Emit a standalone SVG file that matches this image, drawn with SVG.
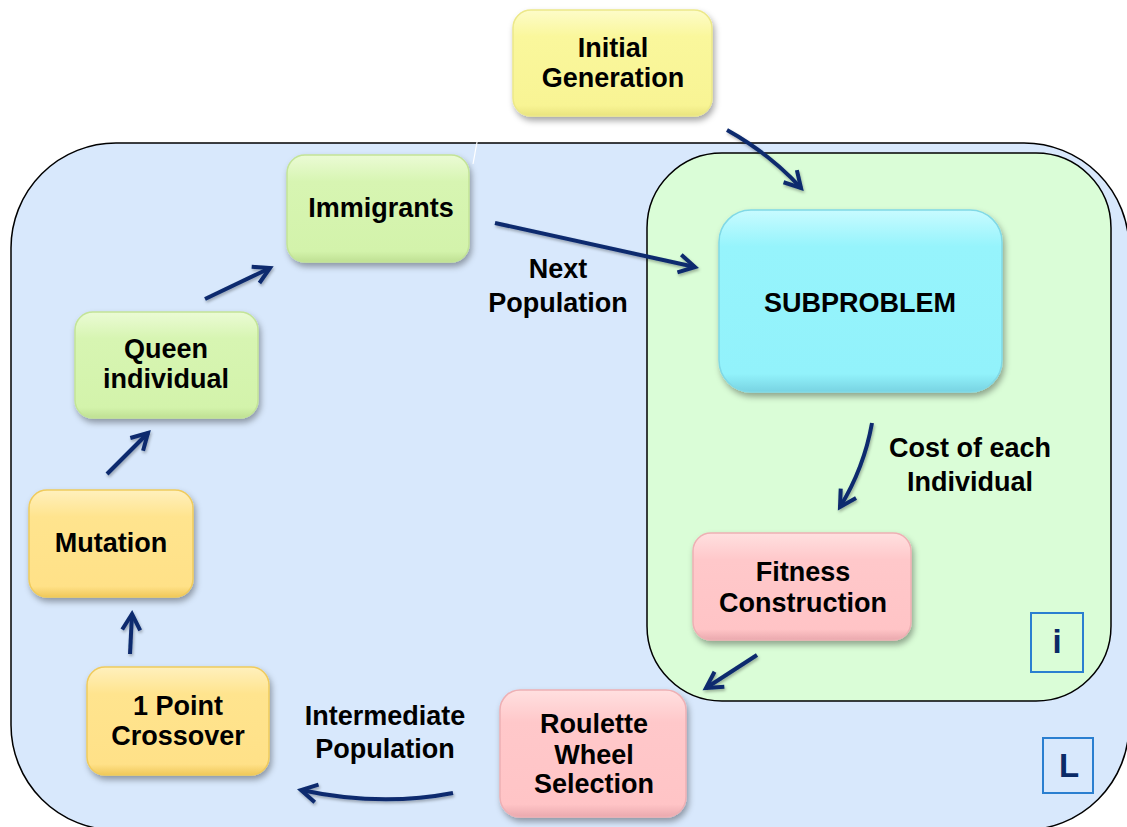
<svg xmlns="http://www.w3.org/2000/svg" width="1127" height="827" viewBox="0 0 1127 827">
  <defs>
    <style>
      .lbl { font-family: "Liberation Sans", Arial, sans-serif; font-weight: bold; font-size: 27px; fill: #000; text-anchor: middle; }
      .tag { font-family: "Liberation Sans", Arial, sans-serif; font-weight: bold; font-size: 33px; fill: #0a2a66; text-anchor: middle; }
      .tagbox { fill: none; stroke: #2a7fd0; stroke-width: 2; }
      .conn { fill: none; stroke: #0b2a6e; stroke-width: 4; stroke-linecap: butt; marker-end: url(#head); }
      .box { filter: url(#shadow); stroke-width: 1.5; }
    </style>
    <filter id="shadow" x="-20%" y="-20%" width="140%" height="150%">
      <feDropShadow dx="2" dy="4" stdDeviation="3" flood-color="#000" flood-opacity="0.35"/>
    </filter>
    <filter id="lineShadow" x="-20%" y="-20%" width="140%" height="140%">
      <feDropShadow dx="1" dy="2" stdDeviation="1.5" flood-color="#000" flood-opacity="0.3"/>
    </filter>
    <marker id="head" viewBox="0 0 24 24" markerUnits="userSpaceOnUse" markerWidth="24" markerHeight="24" refX="19" refY="12" orient="auto">
      <path d="M3,3 L19,12 L3,21" fill="none" stroke="#0b2a6e" stroke-width="4" stroke-linejoin="miter"/>
    </marker>
    <linearGradient id="gYellow" x1="0" y1="0" x2="0" y2="1">
      <stop offset="0" stop-color="#fdfcc9"/>
      <stop offset="0.25" stop-color="#faf79c"/>
      <stop offset="0.9" stop-color="#f8f494"/>
      <stop offset="1" stop-color="#e9e47e"/>
    </linearGradient>
    <linearGradient id="gGreen" x1="0" y1="0" x2="0" y2="1">
      <stop offset="0" stop-color="#ebfbd5"/>
      <stop offset="0.25" stop-color="#d7f5b2"/>
      <stop offset="0.9" stop-color="#d3f3ab"/>
      <stop offset="1" stop-color="#bfe093"/>
    </linearGradient>
    <linearGradient id="gGold" x1="0" y1="0" x2="0" y2="1">
      <stop offset="0" stop-color="#fff0bd"/>
      <stop offset="0.25" stop-color="#ffe48e"/>
      <stop offset="0.9" stop-color="#ffe188"/>
      <stop offset="1" stop-color="#f0c85a"/>
    </linearGradient>
    <linearGradient id="gCyan" x1="0" y1="0" x2="0" y2="1">
      <stop offset="0" stop-color="#c8fbff"/>
      <stop offset="0.2" stop-color="#96f4fc"/>
      <stop offset="0.9" stop-color="#92f2fb"/>
      <stop offset="1" stop-color="#78d3e2"/>
    </linearGradient>
    <linearGradient id="gPink" x1="0" y1="0" x2="0" y2="1">
      <stop offset="0" stop-color="#ffe0e0"/>
      <stop offset="0.25" stop-color="#ffc8ca"/>
      <stop offset="0.9" stop-color="#ffc4c6"/>
      <stop offset="1" stop-color="#eaa9ae"/>
    </linearGradient>
  </defs>

  <rect width="1127" height="827" fill="#ffffff"/>

  <!-- outer loop region (L) -->
  <g id="region-L">
    <rect x="11" y="143" width="1118" height="687" rx="105" ry="105" fill="#d8e8fc" stroke="#000" stroke-width="1.5"/>
    <rect class="tagbox" x="1043" y="738" width="50" height="55"/>
    <text class="tag" x="1069" y="777">L</text>
  </g>

  <!-- inner subproblem region (i) -->
  <g id="region-i">
    <rect x="647" y="153" width="464" height="548" rx="75" ry="75" fill="#dafdd7" stroke="#000" stroke-width="1.5"/>
    <rect class="tagbox" x="1031" y="613" width="52" height="59"/>
    <text class="tag" x="1057" y="653">i</text>
  </g>

  <!-- thin light stroke above the Immigrants box -->
  <line x1="477" y1="142" x2="473" y2="164" stroke="#ffffff" stroke-width="1.2"/>

  <g id="node-initial">
    <rect class="box" x="513" y="10" width="199" height="106" rx="18" fill="url(#gYellow)" stroke="#ece889"/>
    <text class="lbl" x="613" y="57">Initial</text>
    <text class="lbl" x="613" y="87">Generation</text>
  </g>

  <g id="node-immigrants">
    <rect class="box" x="287" y="155" width="182" height="107" rx="18" fill="url(#gGreen)" stroke="#c3e497"/>
    <text class="lbl" x="381" y="217">Immigrants</text>
  </g>

  <g id="node-queen">
    <rect class="box" x="75" y="312" width="183" height="106" rx="18" fill="url(#gGreen)" stroke="#c3e497"/>
    <text class="lbl" x="166" y="358">Queen</text>
    <text class="lbl" x="166" y="388">individual</text>
  </g>

  <g id="node-mutation">
    <rect class="box" x="29" y="490" width="164" height="107" rx="18" fill="url(#gGold)" stroke="#f0cb5c"/>
    <text class="lbl" x="111" y="552">Mutation</text>
  </g>

  <g id="node-crossover">
    <rect class="box" x="87" y="667" width="182" height="108" rx="18" fill="url(#gGold)" stroke="#f0cb5c"/>
    <text class="lbl" x="178" y="715">1 Point</text>
    <text class="lbl" x="178" y="745">Crossover</text>
  </g>

  <g id="node-roulette">
    <rect class="box" x="500" y="690" width="186" height="127" rx="20" fill="url(#gPink)" stroke="#eeb0b4"/>
    <text class="lbl" x="594" y="733">Roulette</text>
    <text class="lbl" x="594" y="764">Wheel</text>
    <text class="lbl" x="594" y="793">Selection</text>
  </g>

  <g id="node-fitness">
    <rect class="box" x="693" y="533" width="218" height="107" rx="18" fill="url(#gPink)" stroke="#eeb0b4"/>
    <text class="lbl" x="803" y="581">Fitness</text>
    <text class="lbl" x="803" y="612">Construction</text>
  </g>

  <g id="node-subproblem">
    <rect class="box" x="719" y="210" width="283" height="182" rx="32" fill="url(#gCyan)" stroke="#80d9e6"/>
    <text class="lbl" x="860" y="312">SUBPROBLEM</text>
  </g>

  <!-- edge labels -->
  <g id="edge-labels">
    <text class="lbl" x="558" y="278">Next</text>
    <text class="lbl" x="558" y="312">Population</text>
    <text class="lbl" x="970" y="457">Cost of each</text>
    <text class="lbl" x="970" y="491">Individual</text>
    <text class="lbl" x="385" y="725">Intermediate</text>
    <text class="lbl" x="385" y="758">Population</text>
  </g>

  <!-- connectors -->
  <g id="connectors" filter="url(#lineShadow)">
    <path class="conn" d="M727,130 Q770,154 801,188"/>
    <path class="conn" d="M495,223 L695,267"/>
    <path class="conn" d="M205,299 L270,268"/>
    <path class="conn" d="M107,474 L148,433"/>
    <path class="conn" d="M130,654 L132,614"/>
    <path class="conn" d="M872,423 Q864,468 840,507"/>
    <path class="conn" d="M757,655 L706,688"/>
    <path class="conn" d="M453,793 Q380,807 301,790"/>
  </g>
</svg>
